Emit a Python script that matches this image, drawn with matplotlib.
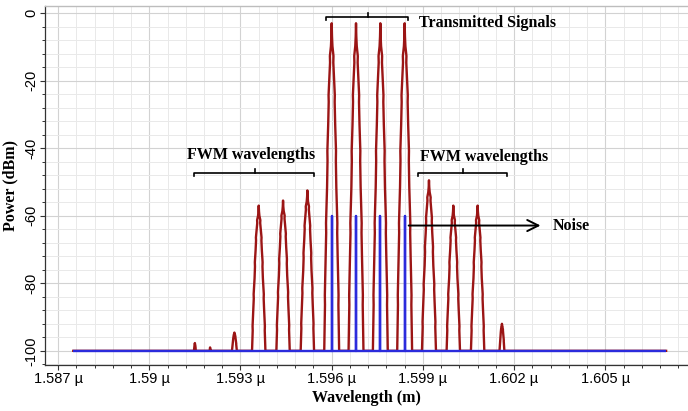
import numpy as np
import matplotlib
matplotlib.use("Agg")
import matplotlib.pyplot as plt
from matplotlib.ticker import MultipleLocator, FuncFormatter

# ---- values ----
floor_dbm = -100.0
noise_dbm = -60.0
span_um = [1.5875, 1.6070]          # start / end of the blue trace

# transmitted channels (um, dBm)
sig_um = [1.5960, 1.5968, 1.5976, 1.5984]
sig_dbm = [-3.0, -3.0, -3.0, -3.0]
sig_hw_nm = [0.245, 0.245, 0.245, 0.245]

# FWM products (um, dBm, half width at floor in nm)
fwm_um = [1.5915, 1.5920, 1.5928, 1.5936, 1.5944, 1.5952,
          1.5992, 1.6000, 1.6008, 1.6016]
fwm_dbm = [-97.7, -99.0, -94.6, -57.0, -55.5, -52.5,
           -49.5, -57.0, -57.0, -92.0]
fwm_hw_nm = [0.03, 0.015, 0.08, 0.22, 0.22, 0.22,
             0.23, 0.22, 0.22, 0.08]

# left half of one line (offset as fraction of half width, level as fraction of height)
prof_u = [-1.00, -0.90, -0.92, -0.80, -0.74, -0.76, -0.62, -0.56, -0.58,
          -0.47, -0.40, -0.42, -0.30, -0.22, -0.24, -0.10, -0.04, 0.00]
prof_f = [0.00, 0.14, 0.17, 0.29, 0.36, 0.39, 0.50, 0.58, 0.61,
          0.69, 0.76, 0.78, 0.84, 0.88, 0.90, 0.93, 0.96, 1.00]

RED = "#9b1515"
BLUE = "#2b2bdc"


def build_red():
    lines = sorted(zip(sig_um + fwm_um, sig_dbm + fwm_dbm, sig_hw_nm + fwm_hw_nm))
    u = np.array(prof_u)
    f = np.array(prof_f)
    uu = np.concatenate([u, -u[-2::-1]])
    ff = np.concatenate([f, f[-2::-1]])
    xs = [span_um[0]]
    ys = [floor_dbm]
    for c, p, hw in lines:
        xs.extend(c + uu * hw * 1e-3)
        ys.extend(floor_dbm + ff * (p - floor_dbm))
    xs.append(span_um[1])
    ys.append(floor_dbm)
    return np.array(xs), np.array(ys)


def build_blue():
    xs = [span_um[0]]
    ys = [floor_dbm]
    for c in sig_um:
        xs += [c, c, c]
        ys += [floor_dbm, noise_dbm, floor_dbm]
    xs.append(span_um[1])
    ys.append(floor_dbm)
    return xs, ys


fig = plt.figure(figsize=(6.88, 4.11), dpi=100)
ax = fig.add_axes([45 / 688, 1 - 365 / 411, 1 - 45 / 688, (365 - 5.7) / 411])

rx, ry = build_red()
bx, by = build_blue()
ax.plot(rx, ry, color=RED, lw=1.7, zorder=2)
ax.plot(bx, by, color=BLUE, lw=1.7, zorder=3, solid_capstyle="butt")

ax.set_xlim(1.58657, 1.60772)
ax.set_ylim(-104.2, 2.2)

ax.xaxis.set_major_locator(MultipleLocator(0.003))
ax.xaxis.set_minor_locator(MultipleLocator(0.0006))
ax.yaxis.set_major_locator(MultipleLocator(20))
ax.yaxis.set_minor_locator(MultipleLocator(4))
ax.xaxis.set_major_formatter(FuncFormatter(lambda v, pos: "{:g} \u00b5".format(round(v, 4))))
ax.yaxis.set_major_formatter(FuncFormatter(lambda v, pos: "{:g}".format(round(v))))

ax.grid(True, which="major", color="#d2d2d2", lw=0.8)
ax.grid(True, which="minor", color="#e9e9e9", lw=0.7)
ax.set_axisbelow(True)

ax.tick_params(which="major", length=3.5, width=0.8, color="#333333", pad=1.5)
ax.tick_params(which="minor", length=2, width=0.7, color="#333333")
for lab in ax.get_xticklabels():
    lab.set_fontfamily("Liberation Sans")
    lab.set_fontsize(10.5)
for lab in ax.get_yticklabels():
    lab.set_fontfamily("Liberation Sans")
    lab.set_fontsize(10.5)
    lab.set_rotation(90)
    lab.set_va("center")

for s in ["left", "bottom"]:
    ax.spines[s].set_color("#333333")
    ax.spines[s].set_linewidth(0.9)
ax.spines["right"].set_visible(False)
ax.spines["top"].set_color("#bdbdbd")
ax.spines["top"].set_linestyle((0, (4, 1)))
ax.spines["top"].set_linewidth(1.0)

lblfont = {"family": "Liberation Serif", "weight": "bold", "size": 11.5}
ax.set_xlabel("Wavelength (m)", fontdict=lblfont, labelpad=3)
ax.set_ylabel("Power (dBm)", fontdict=lblfont, labelpad=4)

# brackets and notes
def bracket(x0, x1, xm, y, drop, rise):
    ax.plot([x0, x0, x1, x1], [y - drop, y, y, y - drop], color="black", lw=1.2, zorder=5,
            clip_on=False)
    ax.plot([xm, xm], [y, y + rise], color="black", lw=1.2, zorder=5, clip_on=False)

bracket(1.59581, 1.59852, 1.59718, -1.2, 0.9, 1.1)
ax.text(1.59887, -2.8, "Transmitted Signals", ha="left", va="center", **lblfont)

bracket(1.59148, 1.59543, 1.59347, -47.4, 0.9, 1.2)
ax.text(1.59335, -42.0, "FWM wavelengths", ha="center", va="center", **lblfont)

bracket(1.59883, 1.60176, 1.60031, -47.4, 0.9, 1.2)
ax.text(1.59890, -42.7, "FWM wavelengths", ha="left", va="center", **lblfont)

ax.annotate("", xy=(1.60296, -62.9), xytext=(1.59844, -62.9),
            arrowprops=dict(arrowstyle="->,head_length=0.8,head_width=0.4", color="black", lw=1.4),
            zorder=5)
ax.text(1.60327, -63.0, "Noise", ha="left", va="center", **lblfont)

fig.savefig("out.png", dpi=100, facecolor="white")
